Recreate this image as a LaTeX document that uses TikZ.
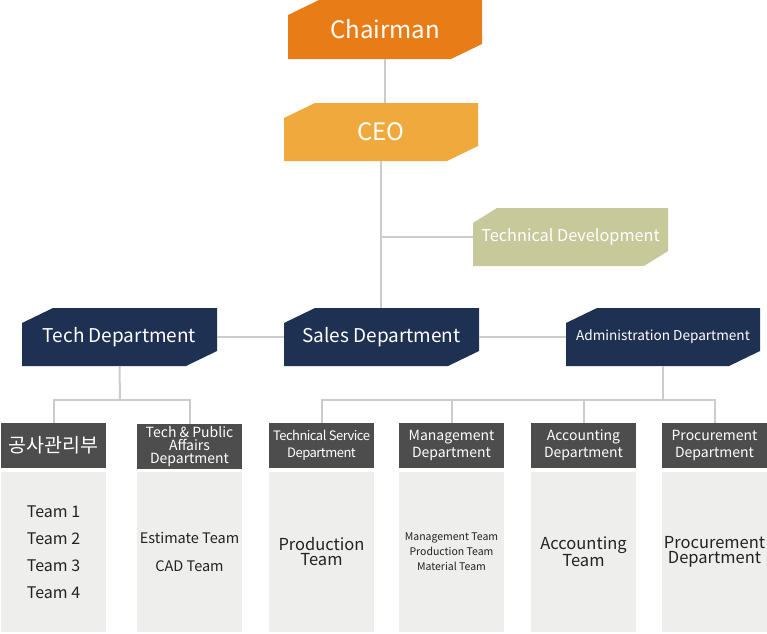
\documentclass[tikz,border=0pt]{standalone}
\usepackage{fontspec}
\setmainfont{Noto Sans CJK KR}
\definecolor{chairc}{HTML}{E87D17}
\definecolor{ceoc}{HTML}{F0A93C}
\definecolor{tdc}{HTML}{C8C99A}
\definecolor{navy}{HTML}{1F3153}
\definecolor{hdr}{HTML}{4D4D4D}
\definecolor{bodyc}{HTML}{EEEEED}
\definecolor{linec}{HTML}{CCCCCC}
\definecolor{txt}{HTML}{222222}
\newcommand{\fs}[2]{\fontsize{#1}{#2}\selectfont}
\tikzset{
  chamf/.style n args={3}{minimum width=#2, minimum height=58, inner sep=0pt, text=white,
    path picture={\fill[#1] ([yshift=-15]path picture bounding box.north west) -- ([xshift=#3]path picture bounding box.north west) -- (path picture bounding box.north east) -- ([yshift=15]path picture bounding box.south east) -- ([xshift=-#3]path picture bounding box.south east) -- (path picture bounding box.south west) -- cycle;}},
  hdrbox/.style={fill=hdr, text=white, minimum width=105, minimum height=45, inner sep=0pt, align=center},
  bodybox/.style={fill=bodyc, text=txt, minimum width=105, minimum height=160, inner sep=0pt, align=center},
  conn/.style={draw=linec, line width=2}
}
\begin{document}
\begin{tikzpicture}[x=1pt,y=-1pt]
\useasboundingbox (0,0) rectangle (767,633);
\coordinate (tj) at (120,400);
\coordinate (aj) at (663,400);
% top boxes
\node[chamf={chairc}{194}{31}, minimum height=59, font=\fs{24}{28}] (chair) at (385,29.5) {Chairman};
\node[chamf={ceoc}{194}{31}, font=\fs{24}{28}] (ceo) at (381,132) {CEO};
\node[chamf={tdc}{195}{24}, font=\fs{16.3}{20}] (td) at (570.5,237) {Technical Development};
\node[chamf={navy}{195}{31}, font=\fs{19}{24}] (tech) at (119.5,337) {Tech Department};
\node[chamf={navy}{195}{31}, font=\fs{19}{24}] (sales) at (381.5,337) {Sales Department};
\node[chamf={navy}{194}{31}, font=\fs{13.6}{18}] (admin) at (663,337) {Administration Department};
% headers
\node[hdrbox, font=\fs{19.5}{24}] (h1) at (53.5,445.5) {공사관리부};
\node[hdrbox, font=\fs{14}{13}] (h2) at (189.5,446.5) {Tech \& Public\\Affairs\\Department};
\node[hdrbox, font={\fs{13}{17}\addfontfeature{LetterSpace=-4}}] (h3) at (321.5,445.5) {Technical Service\\Department};
\node[hdrbox, font=\fs{14}{17}] (h4) at (451.5,445.5) {Management\\Department};
\node[hdrbox, font=\fs{14}{17}] (h5) at (583.5,445.5) {Accounting\\Department};
\node[hdrbox, font=\fs{14}{17}] (h6) at (714.5,445.5) {Procurement\\Department};
% bodies
\node[bodybox, font=\fs{16}{27}] (b1) at (53.5,552) {Team 1\\Team 2\\Team 3\\Team 4};
\node[bodybox, font=\fs{14.5}{28.5}] (b2) at (189.5,552) {Estimate Team\\CAD Team};
\node[bodybox, font=\fs{16.5}{15}] (b3) at (321.5,552) {Production\\Team};
\node[bodybox, font=\fs{10.5}{15}] (b4) at (451.5,552) {Management Team\\Production Team\\Material Team};
\node[bodybox, font=\fs{16.5}{15}] (b5) at (583.5,552) {Accounting\\Team};
\node[bodybox, font=\fs{16.5}{15}] (b6) at (714.5,552) {Procurement\\Department};
% lines
\draw[conn] (chair.south) -- (chair.south |- ceo.north);
\draw[conn] (ceo.south) -- (ceo.south |- sales.north);
\draw[conn] (ceo.south |- td.west) -- (td.west);
\draw[conn] (tech.east) -- (sales.west);
\draw[conn] (sales.east) -- (admin.west);
\draw[conn] (tech.south) -- (tj);
\draw[conn] (h1.north) |- (tj) -| (h2.north);
\draw[conn] (admin.south) -- (aj);
\draw[conn] (h3.north) |- (aj) -| (h6.north);
\draw[conn] (h4.north) -- (h4.north |- aj);
\draw[conn] (h5.north) -- (h5.north |- aj);
\end{tikzpicture}
\end{document}
